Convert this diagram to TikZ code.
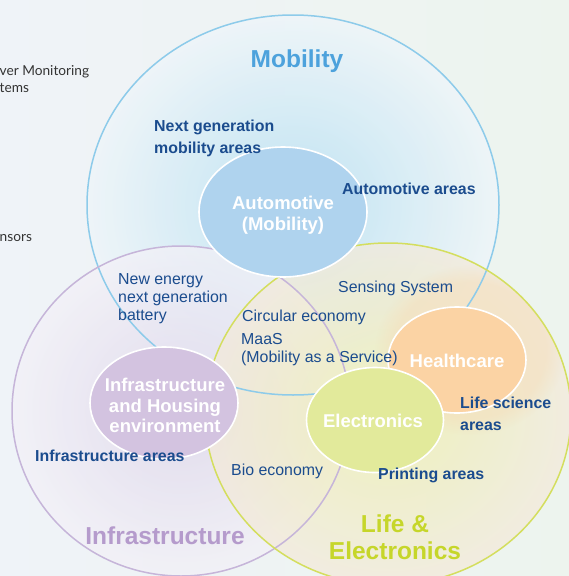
\documentclass[tikz,border=0pt]{standalone}
\usepackage{fontspec}
\setmainfont{Liberation Sans}
\newfontfamily\latofont{Lato}
\usetikzlibrary{shapes.geometric,fadings}
\definecolor{dkblue}{HTML}{1B4C8E}
\definecolor{mobtitle}{HTML}{4DA2DC}
\definecolor{infratitle}{HTML}{B59BCC}
\definecolor{lifetitle}{HTML}{C6D62A}
\definecolor{mobline}{HTML}{8DCBEA}
\definecolor{infraline}{HTML}{C6B5D9}
\definecolor{lifeline}{HTML}{D4DE5E}
\definecolor{autofill}{HTML}{AFD3EE}
\definecolor{housefill}{HTML}{D3C3E0}
\definecolor{healthfill}{HTML}{FBD3A4}
\definecolor{elecfill}{HTML}{E2EA9B}
\definecolor{bgL}{HTML}{EFF3F8}
\definecolor{bgR}{HTML}{EDF4EE}
\definecolor{mobin}{HTML}{B8E1F3}
\definecolor{mobout}{HTML}{EEF5F9}
\definecolor{infin}{HTML}{DDD4EA}
\definecolor{infout}{HTML}{F3F1F7}
\definecolor{lifin}{HTML}{EEF0AC}
\definecolor{lifout}{HTML}{F3EADB}
\definecolor{peach}{HTML}{F6DDBA}
\definecolor{sidegray}{HTML}{333333}
\tikzset{
  bigcircle/.style={ellipse, inner sep=0pt, line width=1.5pt},
  innerell/.style={ellipse, inner sep=0pt, draw=white, line width=1.6pt},
  whitelabel/.style={text=white, font=\bfseries\fontsize{18.5}{21}\selectfont, align=center, inner sep=0pt},
  arealabel/.style={text=dkblue, font=\bfseries\fontsize{15.9}{22}\selectfont, align=left, inner sep=0pt, anchor=west},
  plainlabel/.style={text=dkblue, font=\fontsize{15.9}{18}\selectfont, align=left, inner sep=0pt, anchor=west},
  titlelabel/.style={font=\bfseries\fontsize{24.5}{27}\selectfont, align=center, inner sep=0pt},
  sidelabel/.style={text=sidegray, font=\latofont\fontsize{13.7}{17}\selectfont, align=left, inner sep=0pt, anchor=west}
}
\begin{document}
\begin{tikzpicture}[x=1pt,y=-1pt]
\useasboundingbox (0,0) rectangle (569,576);
\begin{scope}
\clip (0,0) rectangle (569,576);
\shade[left color=bgL, right color=bgR] (0,0) rectangle (569,576);
% side texts
\node[sidelabel] (side1) at (-0.5,79.5) {ver Monitoring\\tems};
\node[sidelabel] (side2) at (-0.5,238) {nsors};
% big circle fills
\node[bigcircle, shade, inner color=mobin, outer color=mobout, fill opacity=0.85, minimum width=412, minimum height=380] (mobfill) at (293,205) {};
\node[bigcircle, shade, inner color=infin, outer color=infout, fill opacity=0.75, minimum width=338, minimum height=330] (inffill) at (181,411) {};
\node[bigcircle, shade, inner color=lifin, outer color=lifout, fill opacity=0.75, minimum width=366, minimum height=342] (liffill) at (388,414) {};
\begin{scope}
\clip (388,414) ellipse (183 and 171);
\fill[peach, path fading=circle with fuzzy edge 20 percent, fill opacity=0.5] (470,350) ellipse (95 and 85);
\end{scope}
% big circle outlines
\node[bigcircle, draw=mobline, minimum width=412, minimum height=380] (mob) at (293,205) {};
\node[bigcircle, draw=infraline, minimum width=338, minimum height=330] (inf) at (181,411) {};
\node[bigcircle, draw=lifeline, minimum width=366, minimum height=342] (lif) at (388,414) {};
% inner ellipses
\node[innerell, fill=autofill, minimum width=168, minimum height=130] (auto) at (283,212) {};
\node[innerell, fill=housefill, minimum width=148, minimum height=112] (house) at (164,403) {};
\node[innerell, fill=healthfill, minimum width=138, minimum height=106] (health) at (457,360) {};
\node[innerell, fill=elecfill, minimum width=137, minimum height=105] (elec) at (375,420) {};
\end{scope}
% labels in inner ellipses
\node[whitelabel] (autot) at (283,215.5) {Automotive\\(Mobility)};
\node[whitelabel, font=\bfseries\fontsize{18.5}{20.5}\selectfont] (houset) at (165,405.5) {Infrastructure\\and Housing\\environment};
\node[whitelabel] (healtht) at (457,361) {Healthcare};
\node[whitelabel] (elect) at (373,421) {Electronics};
% titles
\node[titlelabel, text=mobtitle] (mobt) at (297,61) {Mobility};
\node[titlelabel, text=infratitle] (inft) at (165,536) {Infrastructure};
\node[titlelabel, text=lifetitle] (lift) at (395,537.5) {Life \&\\Electronics};
% area labels
\node[arealabel] (nextgen) at (154,138.5) {Next generation\\mobility areas};
\node[arealabel] (autoarea) at (342,188.5) {Automotive areas};
\node[arealabel] (infarea) at (35,456) {Infrastructure areas};
\node[arealabel] (lifesci) at (460,413.5) {Life science\\areas};
\node[arealabel] (printarea) at (378,475) {Printing areas};
% plain labels
\node[plainlabel] (newenergy) at (118,298.5) {New energy\\next generation\\battery};
\node[plainlabel] (sensing) at (338,288.5) {Sensing System};
\node[plainlabel] (circular) at (242,317) {Circular economy};
\node[plainlabel] (maas) at (241,349.5) {MaaS\\(Mobility as a Service)};
\node[plainlabel] (bio) at (231,471.5) {Bio economy};
\end{tikzpicture}
\end{document}
